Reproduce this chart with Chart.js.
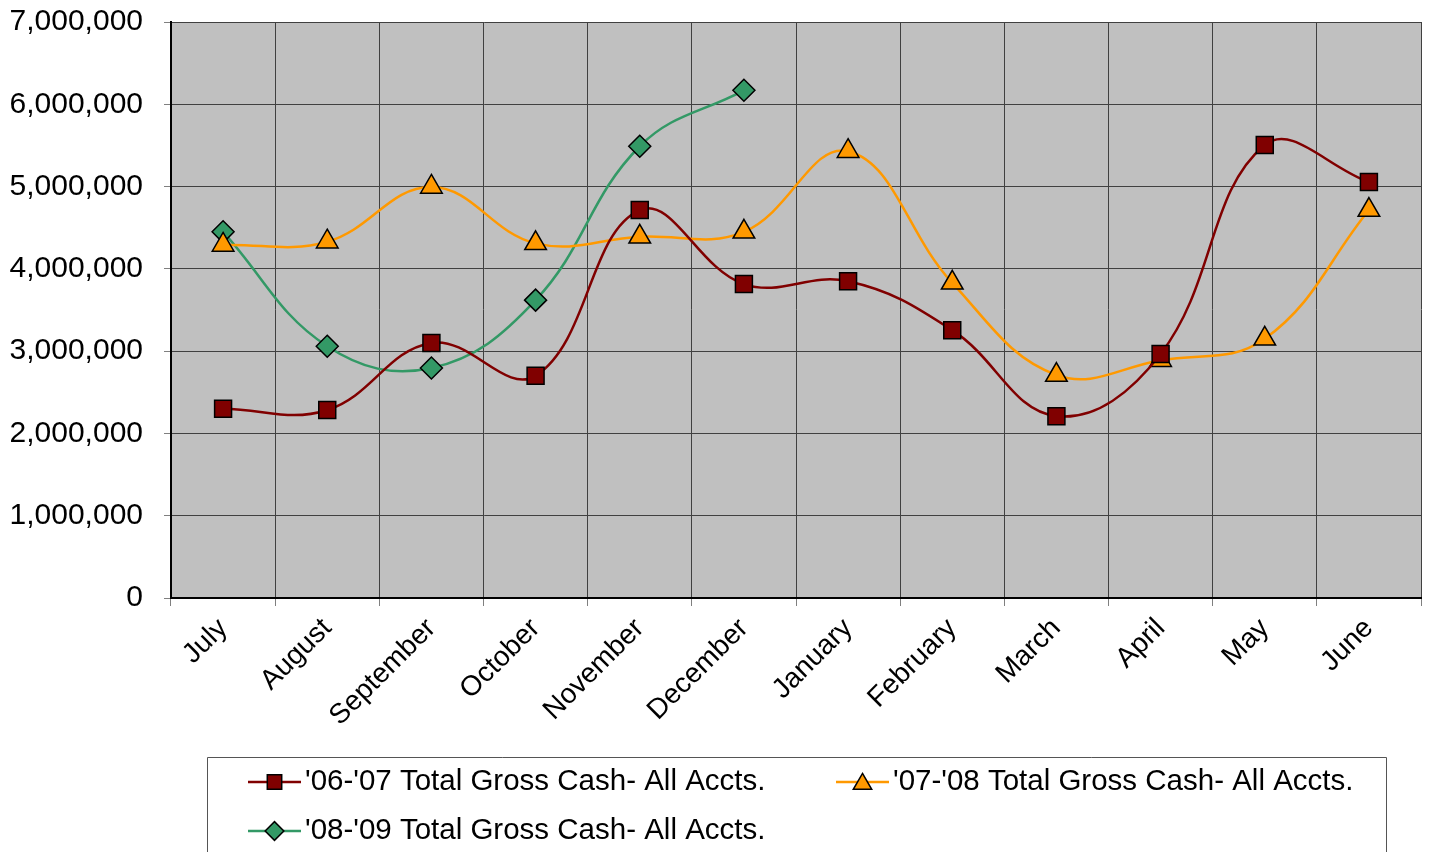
<!DOCTYPE html>
<html>
<head>
<meta charset="utf-8">
<script src="https://cdn.jsdelivr.net/npm/chart.js@4"></script>
<style>
  html, body { margin: 0; padding: 0; background: #fff; }
  #wrap { width: 1429px; height: 852px; position: relative; }
</style>
</head>
<body>
<div id="wrap"><canvas id="grafica" width="1429" height="852"></canvas></div>
<script>
// Meses del año fiscal
const meses = ["July", "August", "September", "October", "November", "December",
  "January", "February", "March", "April", "May", "June"];
// Valores
const caja0607 = [2300000, 2285000, 3100000, 2700000, 4715000, 3815000,
  3850000, 3255000, 2210000, 2965000, 5505000, 5055000];
const caja0708 = [4290000, 4330000, 4995000, 4310000, 4390000, 4450000,
  5430000, 3830000, 2710000, 2890000, 3150000, 4715000];
const caja0809 = [4450000, 3060000, 2795000, 3620000, 5490000, 6170000];
const etiquetasSerie = ["'06-'07 Total Gross Cash- All Accts.",
  "'07-'08 Total Gross Cash- All Accts.",
  "'08-'09 Total Gross Cash- All Accts."];
const ticksY = [0, 1000000, 2000000, 3000000, 4000000, 5000000, 6000000, 7000000];

const fuente = "'Liberation Sans', Arial, sans-serif";

// Fondo gris del área de trazado
const fondoPlot = {
  id: 'fondoPlot',
  beforeDraw(chart) {
    const { ctx, chartArea: a } = chart;
    ctx.save();
    ctx.fillStyle = '#C0C0C0';
    ctx.fillRect(a.left, a.top, a.right - a.left, a.bottom - a.top);
    ctx.restore();
  }
};

// Leyenda tipo Excel: línea con marcador en el centro
const leyenda = {
  id: 'leyenda',
  afterDraw(chart) {
    const ctx = chart.ctx;
    ctx.save();
    ctx.strokeStyle = '#555';
    ctx.lineWidth = 1;
    ctx.beginPath();
    ctx.moveTo(207.5, 852);
    ctx.lineTo(207.5, 757.5);
    ctx.lineTo(1386.5, 757.5);
    ctx.lineTo(1386.5, 852);
    ctx.stroke();
    const pos = [[248, 782], [836, 782], [248, 831]];
    chart.data.datasets.forEach((ds, i) => {
      const [x, y] = pos[i];
      ctx.strokeStyle = ds.borderColor;
      ctx.lineWidth = 2.5;
      ctx.beginPath();
      ctx.moveTo(x, y);
      ctx.lineTo(x + 53, y);
      ctx.stroke();
      ctx.fillStyle = ds.pointBackgroundColor;
      ctx.strokeStyle = '#000';
      ctx.lineWidth = 1.5;
      Chart.helpers.drawPoint(ctx, {
        pointStyle: ds.pointStyle, rotation: 0, borderWidth: 1.5,
        radius: ds.pointRadius * 0.85
      }, x + 26.5, y + (ds.pointStyle === 'triangle' ? 2 : 0));
      ctx.fillStyle = '#000';
      ctx.font = '29.5px ' + fuente;
      ctx.textBaseline = 'middle';
      ctx.fillText(ds.label, x + 57, y);
    });
    ctx.restore();
  }
};

new Chart(document.querySelector('#grafica'), {
  type: 'line',
  data: {
    labels: meses,
    datasets: [
      {
        label: etiquetasSerie[0], data: caja0607,
        borderColor: '#800000', pointBackgroundColor: '#800000',
        pointStyle: 'rect', pointRadius: 12, pointHoverRadius: 12
      },
      {
        label: etiquetasSerie[1], data: caja0708,
        borderColor: '#FF9900', pointBackgroundColor: '#FF9900',
        pointStyle: 'triangle', pointRadius: 12.5, pointHoverRadius: 12.5
      },
      {
        label: etiquetasSerie[2], data: caja0809,
        borderColor: '#339966', pointBackgroundColor: '#339966',
        pointStyle: 'rectRot', pointRadius: 11, pointHoverRadius: 11
      }
    ].map(ds => Object.assign(ds, {
      borderWidth: 2.5, tension: 0.4, pointBorderColor: '#000',
      pointBorderWidth: 1.5, fill: false
    }))
  },
  options: {
    responsive: false,
    maintainAspectRatio: false,
    animation: false,
    devicePixelRatio: 1,
    layout: { autoPadding: false, padding: { top: 22, right: 8, bottom: 114, left: 0 } },
    plugins: { legend: { display: false }, tooltip: { enabled: false } },
    scales: {
      x: {
        offset: true,
        grid: { offset: true, color: '#404040', lineWidth: 1, tickLength: 8, tickColor: '#808080' },
        border: { color: '#000', width: 2 },
        ticks: { minRotation: 45, maxRotation: 45, autoSkip: false, color: '#000', font: { size: 28, family: fuente }, padding: 6 },
        afterFit(s) { s.height = 140; s.paddingLeft = 0; s.paddingRight = 0; }
      },
      y: {
        min: 0, max: 7000000,
        afterBuildTicks(s) { s.ticks = ticksY.map(v => ({ value: v })); },
        grid: { color: '#404040', lineWidth: 1, tickLength: 7, tickColor: '#808080' },
        border: { color: '#000', width: 2 },
        ticks: {
          color: '#000', font: { size: 30, family: fuente }, padding: 21,
          callback: v => v.toLocaleString('en-US')
        },
        afterFit(s) { s.width = 171; s.paddingTop = 0; s.paddingBottom = 0; }
      }
    }
  },
  plugins: [fondoPlot, leyenda]
});
</script>
</body>
</html>
